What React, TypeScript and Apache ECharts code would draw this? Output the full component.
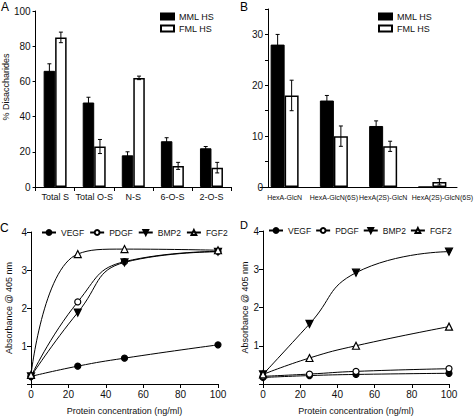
import React, { useEffect, useRef } from "react";
import * as echarts from "echarts";

const FONT = "'Liberation Sans', Arial, sans-serif";
const TXT = "#111";

// Panel A
const catsA = ["Total S", "Total O-S", "N-S", "6-O-S", "2-O-S"];
const mmlA = [66, 48, 18, 26, 22];
const mmlErrA = [4, 3, 2, 2, 1];
const fmlA = [85, 23, 62, 12, 11];
const fmlErrA = [3, 4, 1, 2, 3];

// Panel B
const catsB = ["HexA-GlcN", "HexA-GlcN(6S)", "HexA(2S)-GlcN", "HexA(2S)-GlcN(6S)"];
const mmlB = [28, 17, 12, 0];
const mmlErrB = [2, 1, 1, 0];
const fmlB = [18, 10, 8, 1];
const fmlErrB = [3, 2, 1, 0.6];

// Panels C and D
const conc = [0, 25, 50, 100];
const vegfC = [0.2, 0.47, 0.68, 1.03];
const pdgfC = [0.2, 2.16, 3.22, 3.49];
const bmp2C = [0.2, 1.88, 3.2, 3.48];
const fgf2C = [0.24, 3.42, 3.55, 3.52];
const vegfD = [0.17, 0.22, 0.25, 0.28];
const pdgfD = [0.2, 0.26, 0.33, 0.4];
const bmp2D = [0.25, 1.57, 2.91, 3.46];
const fgf2D = [0.25, 0.68, 1.0, 1.5];
const growthFactors = ["VEGF", "PDGF", "BMP2", "FGF2"];

function errSeries(id: string, gi: number, vals: number[], errs: number[], sign: number, bw: number) {
  return {
    type: "custom",
    id,
    name: id,
    xAxisIndex: gi,
    yAxisIndex: gi,
    z: 10,
    silent: true,
    data: vals.map((v, i) => [i, v, errs[i]]),
    renderItem: (_p: any, api: any) => {
      const i = api.value(0);
      const v = api.value(1);
      const e = api.value(2);
      if (!e) return null;
      const top = api.coord([i, v + e]);
      const bot = api.coord([i, v - e]);
      const x = top[0] + (sign * bw) / 2;
      const c = 2;
      const st = { stroke: "#000", lineWidth: 1 };
      return {
        type: "group",
        children: [
          { type: "line", shape: { x1: x, y1: top[1], x2: x, y2: bot[1] }, style: st },
          { type: "line", shape: { x1: x - c, y1: top[1], x2: x + c, y2: top[1] }, style: st },
          { type: "line", shape: { x1: x - c, y1: bot[1], x2: x + c, y2: bot[1] }, style: st },
        ],
      };
    },
  };
}

function lineSeries(name: string, gi: number, ys: number[]) {
  const filled = name === "VEGF" || name === "BMP2";
  const symbol = name === "VEGF" || name === "PDGF" ? "circle" : "triangle";
  return {
    type: "line",
    name,
    xAxisIndex: gi,
    yAxisIndex: gi,
    smooth: 0.5,
    data: conc.map((x, i) => [x, ys[i]]),
    symbol,
    symbolSize: symbol === "circle" ? 6 : 7,
    symbolRotate: name === "BMP2" ? 180 : 0,
    showSymbol: true,
    lineStyle: { color: "#000", width: 1 },
    itemStyle: { color: filled ? "#000" : "#fff", borderColor: "#000", borderWidth: 1.2 },
  };
}

const axisLine = { show: true, lineStyle: { color: "#000", width: 1 } };
const lbl = (size: number, margin: number) => ({ color: TXT, fontFamily: FONT, fontSize: size, margin });

export default function App() {
  const ref = useRef<HTMLDivElement>(null);
  useEffect(() => {
    if (!ref.current) return;
    const chart = echarts.init(ref.current, null, { renderer: "svg" });
    const bwA = 11.5;
    const bwB = 14;
    const catsBData = catsB.map((c, i) =>
      i === catsB.length - 1 ? { value: c, textStyle: { padding: [0, 0, 0, 20] } } : c
    );
    const option: any = {
      animation: false,
      backgroundColor: "#fff",
      textStyle: { fontFamily: FONT },
      grid: [
        { left: 31, top: 11, width: 200, height: 176 },
        { left: 260, top: 9, width: 198, height: 178 },
        { left: 31, top: 232, width: 187, height: 156 },
        { left: 263, top: 231, width: 186, height: 157 },
      ],
      xAxis: [
        {
          type: "category", gridIndex: 0, data: catsA, axisLine,
          axisTick: { show: true, length: 4, lineStyle: { color: "#000" } },
          axisLabel: { ...lbl(9, 5), interval: 0 },
        },
        {
          type: "category", gridIndex: 1, data: catsBData, axisLine,
          axisTick: { show: false },
          axisLabel: { ...lbl(7, 7), interval: 0 },
        },
        {
          type: "value", gridIndex: 2, min: 0, max: 100, interval: 20, axisLine,
          axisTick: { show: true, length: 4, lineStyle: { color: "#000" } },
          splitLine: { show: false },
          axisLabel: lbl(10, 5),
          name: "Protein concentration (ng/ml)", nameLocation: "middle", nameGap: 22,
          nameTextStyle: { color: TXT, fontFamily: FONT, fontSize: 9 },
        },
        {
          type: "value", gridIndex: 3, min: 0, max: 100, interval: 20, axisLine,
          axisTick: { show: true, length: 4, lineStyle: { color: "#000" } },
          splitLine: { show: false },
          axisLabel: lbl(10, 5),
          name: "Protein concentration (ng/ml)", nameLocation: "middle", nameGap: 22,
          nameTextStyle: { color: TXT, fontFamily: FONT, fontSize: 9 },
        },
      ],
      yAxis: [
        {
          type: "value", gridIndex: 0, min: 0, max: 100, interval: 20, axisLine,
          axisTick: { show: true, length: 3, lineStyle: { color: "#000" } },
          splitLine: { show: false },
          axisLabel: lbl(10, 5),
          name: "% Disaccharides", nameLocation: "middle", nameGap: 21,
          nameTextStyle: { color: TXT, fontFamily: FONT, fontSize: 9, padding: [0, 0, 0, 24] },
        },
        {
          type: "value", gridIndex: 1, min: 0, max: 35, interval: 5, offset: -8, axisLine,
          axisTick: { show: true, length: 3, lineStyle: { color: "#000" } },
          splitLine: { show: false },
          axisLabel: { ...lbl(10, 5), formatter: (v: number) => (v % 10 === 0 ? String(v) : "") },
        },
        {
          type: "value", gridIndex: 2, min: 0, max: 4, interval: 1, axisLine,
          axisTick: { show: true, length: 4, lineStyle: { color: "#000" } },
          splitLine: { show: false },
          axisLabel: { ...lbl(10, 4), formatter: (v: number) => (v === 0 ? "" : String(v)) },
          name: "Absorbance @ 405 nm", nameLocation: "middle", nameGap: 18,
          nameTextStyle: { color: TXT, fontFamily: FONT, fontSize: 9 },
        },
        {
          type: "value", gridIndex: 3, min: 0, max: 4, interval: 1, axisLine,
          axisTick: { show: true, length: 4, lineStyle: { color: "#000" } },
          splitLine: { show: false },
          axisLabel: { ...lbl(10, 4), formatter: (v: number) => (v === 0 ? "" : String(v)) },
          name: "Absorbance @ 405 nm", nameLocation: "middle", nameGap: 14,
          nameTextStyle: { color: TXT, fontFamily: FONT, fontSize: 9 },
        },
      ],
      legend: [
        {
          orient: "vertical", left: 160, top: 12, padding: 0, itemGap: 3,
          itemWidth: 13, itemHeight: 6, icon: "rect",
          data: ["MML HS", "FML HS"],
          textStyle: { color: TXT, fontFamily: FONT, fontSize: 9 },
        },
        {
          orient: "vertical", left: 378, top: 12, padding: 0, itemGap: 3,
          itemWidth: 13, itemHeight: 6, icon: "rect",
          data: ["MML HS", "FML HS"],
          textStyle: { color: TXT, fontFamily: FONT, fontSize: 9 },
        },
        {
          orient: "horizontal", left: 41, top: 228, padding: 0, itemGap: 5,
          itemWidth: 14, itemHeight: 6,
          data: growthFactors,
          textStyle: { color: TXT, fontFamily: FONT, fontSize: 8.5 },
        },
        {
          orient: "horizontal", left: 268, top: 226, padding: 0, itemGap: 4,
          itemWidth: 14, itemHeight: 6,
          data: growthFactors,
          textStyle: { color: TXT, fontFamily: FONT, fontSize: 8.5 },
        },
      ],
      graphic: [
        { type: "text", left: 1, top: 1, style: { text: "A", fontSize: 12, fontFamily: FONT, fill: "#000" } },
        { type: "text", left: 240, top: 1, style: { text: "B", fontSize: 12, fontFamily: FONT, fill: "#000" } },
        { type: "text", left: 0, top: 222, style: { text: "C", fontSize: 12, fontFamily: FONT, fill: "#000" } },
        { type: "text", left: 240, top: 219, style: { text: "D", fontSize: 11, fontFamily: FONT, fill: "#000" } },
      ],
      series: [
        {
          type: "bar", name: "MML HS", xAxisIndex: 0, yAxisIndex: 0, data: mmlA,
          barWidth: bwA, barGap: "0%",
          itemStyle: { color: "#000", borderColor: "#000", borderWidth: 1 },
        },
        {
          type: "bar", name: "FML HS", xAxisIndex: 0, yAxisIndex: 0, data: fmlA,
          barWidth: bwA, barGap: "0%",
          itemStyle: { color: "#fff", borderColor: "#000", borderWidth: 1.5 },
        },
        errSeries("errMmlA", 0, mmlA, mmlErrA, -1, bwA),
        errSeries("errFmlA", 0, fmlA, fmlErrA, 1, bwA),
        {
          type: "bar", name: "MML HS", xAxisIndex: 1, yAxisIndex: 1, data: mmlB,
          barWidth: bwB, barGap: "0%",
          itemStyle: { color: "#000", borderColor: "#000", borderWidth: 1 },
        },
        {
          type: "bar", name: "FML HS", xAxisIndex: 1, yAxisIndex: 1, data: fmlB,
          barWidth: bwB, barGap: "0%",
          itemStyle: { color: "#fff", borderColor: "#000", borderWidth: 1.5 },
        },
        errSeries("errMmlB", 1, mmlB, mmlErrB, -1, bwB),
        errSeries("errFmlB", 1, fmlB, fmlErrB, 1, bwB),
        lineSeries("VEGF", 2, vegfC),
        lineSeries("PDGF", 2, pdgfC),
        lineSeries("BMP2", 2, bmp2C),
        lineSeries("FGF2", 2, fgf2C),
        lineSeries("VEGF", 3, vegfD),
        lineSeries("PDGF", 3, pdgfD),
        lineSeries("BMP2", 3, bmp2D),
        lineSeries("FGF2", 3, fgf2D),
      ],
    };
    chart.setOption(option);
    return () => chart.dispose();
  }, []);
  return (
    <div
      ref={ref}
      style={{ position: "fixed", left: 0, top: 0, width: 476, height: 416, background: "#fff" }}
    />
  );
}
